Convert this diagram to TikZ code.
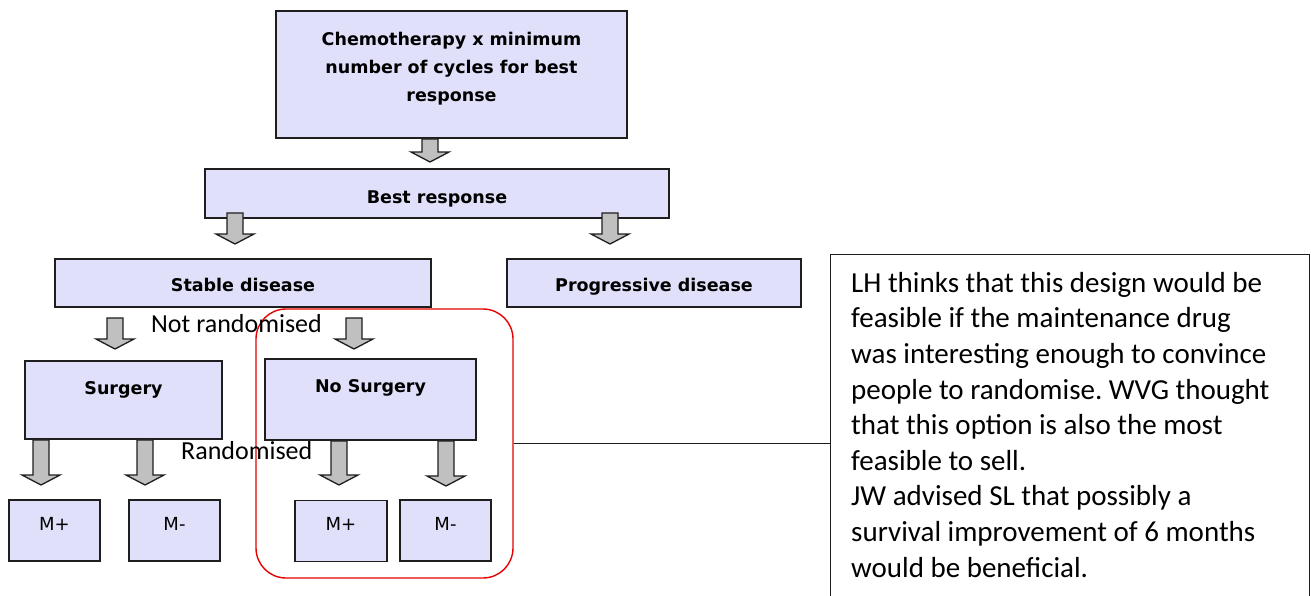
\documentclass[tikz,border=0pt]{standalone}
\usepackage{fontspec}
\setmainfont{Carlito}
\newfontfamily\boxfont{DejaVu Sans}
\usetikzlibrary{calc}
\frenchspacing
\definecolor{boxfill}{RGB}{224,224,250}
\definecolor{boxline}{RGB}{30,30,30}
\definecolor{arrowgray}{RGB}{192,192,192}
\definecolor{redline}{RGB}{230,0,0}
\tikzset{
  flowbox/.style={draw=boxline, fill=boxfill, line width=1.9pt, inner sep=0pt, align=center,
    font=\boxfont\bfseries\fontsize{17.5}{28}\selectfont},
  mbox/.style={draw=boxline, fill=boxfill, line width=1.9pt, inner sep=0pt,
    font=\boxfont\fontsize{18}{20}\selectfont, text height=30pt, text depth=31pt},
  blockarrow/.style={draw=boxline, fill=arrowgray, line width=1.3pt,
    to path={let \p1=(\tikztostart), \p2=(\tikztotarget) in
      ({\x2-8},{\y1-(#1)}) -- ({\x2+8},{\y1-(#1)}) -- ({\x2+8},{\y2+10}) -- ({\x2+19},{\y2+10})
      -- (\x2,\y2) -- ({\x2-19},{\y2+10}) -- ({\x2-8},{\y2+10}) -- cycle}},
  blockarrow/.default=0,
  lbl/.style={inner sep=0pt, font=\fontsize{26}{30}\selectfont},
  notebox/.style={draw=boxline, line width=1.3pt, inner sep=0pt},
  notetext/.style={inner sep=0pt, align=left, font=\fontsize{29}{35.6}\selectfont}
}
\begin{document}
\begin{tikzpicture}[x=1pt,y=-1pt]
\useasboundingbox (0,0) rectangle (1311,595);
\clip (0,0) rectangle (1311,595);
\fill[white] (0,0) rectangle (1311,595);

% red grouping box
\node[draw=redline, line width=1.4pt, rounded corners=30pt, minimum width=257pt, minimum height=269pt, inner sep=0pt] (grp) at (384.5,443.5) {};

% boxes
\node[flowbox, minimum width=351pt, minimum height=127pt] (top) at (451.5,74.5)
  {Chemotherapy x minimum\\number of cycles for best\\response\\[-13pt]\mbox{}};
\node[flowbox, minimum width=464pt, text height=34pt, text depth=15pt] (best) at (437,193.5) {Best response};
\node[flowbox, minimum width=376pt, text height=32pt, text depth=16pt] (stable) at (243,283) {Stable disease};
\node[flowbox, minimum width=294pt, text height=32pt, text depth=16pt] (prog) at (654,283) {Progressive disease};
\node[flowbox, minimum width=197pt, text height=33pt, text depth=45pt] (surg) at (123.5,400) {Surgery};
\node[flowbox, minimum width=211pt, text height=33pt, text depth=48pt] (nosurg) at (370.5,399.5) {No Surgery};
\node[mbox, minimum width=91pt] (m1) at (54.5,530.5) {M+};
\node[mbox, minimum width=91pt] (m2) at (174.5,530.5) {M-};
\node[mbox, minimum width=92pt] (m3) at (341,531) {M+};
\node[mbox, minimum width=91pt] (m4) at (445.5,530.5) {M-};

% arrow tips
\coordinate (t1) at (430,162);
\coordinate (t2) at (235,244);
\coordinate (t3) at (610,244);
\coordinate (t4) at (115,349);
\coordinate (t5) at (354,349);
\coordinate (t6) at (41,485);
\coordinate (t7) at (145,485);
\coordinate (t8) at (339,485);
\coordinate (t9) at (446,486);

\draw[blockarrow] (top.south) to (t1);
\draw[blockarrow=-6] (best.south) to (t2);
\draw[blockarrow=-6] (best.south) to (t3);
\draw[blockarrow=10] (stable.south) to (t4);
\draw[blockarrow=10] (stable.south) to (t5);
\draw[blockarrow] (surg.south) to (t6);
\draw[blockarrow] (surg.south) to (t7);
\draw[blockarrow] (nosurg.south) to (t8);
\draw[blockarrow] (nosurg.south) to (t9);

% labels
\node[lbl, anchor=base west] (notrand) at (151,332) {Not randomised};
\node[lbl, anchor=base west] (rand) at (181,459) {Randomised};

% note
\node[notebox, anchor=north west, minimum width=479pt, minimum height=400pt] (note) at (830,254) {};
\node[notetext, anchor=north west] (notetxt) at (851,272) {LH thinks that this design would be\\
feasible if the maintenance drug\\
was interesting enough to convince\\
people to randomise. WVG thought\\
that this option is also the most\\
feasible to sell.\\
JW advised SL that possibly a\\
survival improvement of 6 months\\
would be beneficial.};
\draw[line width=1.3pt, draw=boxline] (grp.east) -- (grp.east -| note.west);
\end{tikzpicture}
\end{document}
